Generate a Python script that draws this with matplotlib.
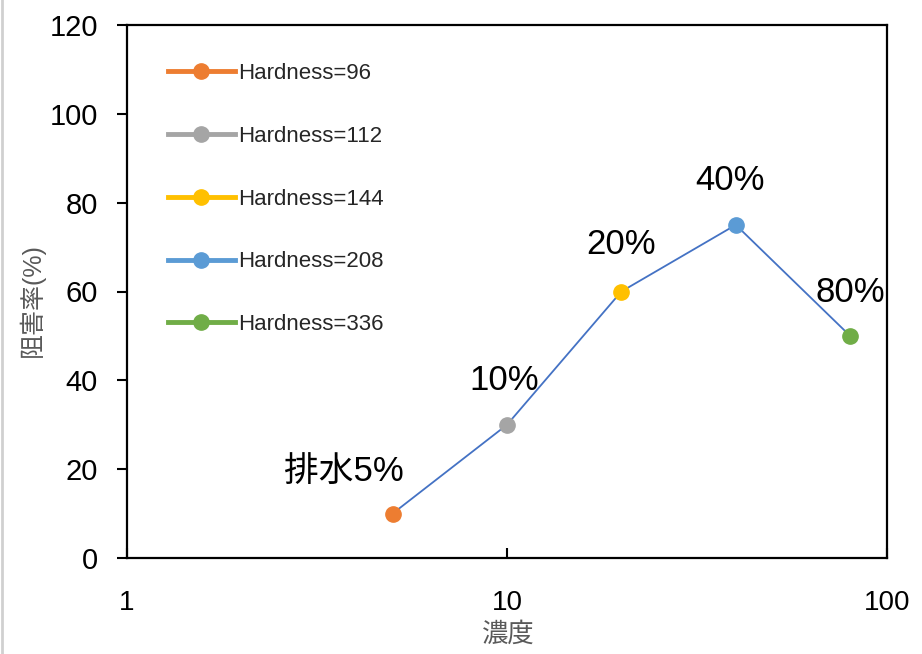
import matplotlib
matplotlib.use('Agg')
import matplotlib.pyplot as plt
from matplotlib.lines import Line2D
from matplotlib.ticker import FixedLocator, FixedFormatter, NullLocator

plt.rcParams['font.family'] = ['Liberation Sans', 'Noto Sans CJK JP', 'DejaVu Sans']

# データ
conc = [5, 10, 20, 40, 80]
inhibition = [10, 30, 60, 75, 50]
labels = ['Hardness=96', 'Hardness=112', 'Hardness=144', 'Hardness=208', 'Hardness=336']
point_text = ['排水5%', '10%', '20%', '40%', '80%']
colors = ['#ED7D31', '#A5A5A5', '#FFC000', '#5B9BD5', '#70AD47']
x_ticks = [1, 10, 100]
y_ticks = [0, 20, 40, 60, 80, 100, 120]

fig = plt.figure(figsize=(9.22, 6.54), dpi=100)
ax = fig.add_axes([127 / 922, 1 - 558 / 654, (887 - 127) / 922, (558 - 25) / 654])

# 折れ線
ax.plot(conc, inhibition, color='#4472C4', lw=1.3, zorder=2)

# 各点
for x, y, c, lab in zip(conc, inhibition, colors, labels):
    ax.plot([x], [y], marker='o', ms=11, color=c, lw=3.5, label=lab, zorder=3)

# 点ラベル
offsets = [(-35, 30), (-2, 32), (0, 34), (-4, 32), (0, 31)]
for x, y, t, (dx, dy) in zip(conc, inhibition, point_text, offsets):
    ax.annotate(t, (x, y), xytext=(dx, dy), textcoords='offset points',
                ha='center', va='center', fontsize=25, color='black')

ax.set_xscale('log')
ax.set_xlim(1, 100)
ax.set_ylim(0, 120)
ax.xaxis.set_major_locator(FixedLocator(x_ticks))
ax.xaxis.set_major_formatter(FixedFormatter([str(v) for v in x_ticks]))
ax.xaxis.set_minor_locator(NullLocator())
ax.set_yticks(y_ticks)

ax.tick_params(axis='x', direction='in', length=7, width=1.5, pad=23, labelsize=20)
ax.tick_params(axis='y', direction='out', length=7, width=1.5, pad=14, labelsize=21)
for s in ax.spines.values():
    s.set_linewidth(1.6)

# 軸ラベル
fig.text(32 / 922, 1 - 300 / 654, '阻害率(%)', rotation=90, ha='center', va='center',
         fontsize=18, color='#595959')
fig.text(508 / 922, 1 - 634 / 654, '濃度', ha='center', va='center',
         fontsize=19, color='#595959')

ax.legend(loc='upper left', bbox_to_anchor=(168 / 922, 1 - 63 / 654),
          bbox_transform=fig.transFigure, frameon=False, fontsize=16,
          handlelength=3.0, handletextpad=0.15, labelspacing=1.88,
          borderpad=0, borderaxespad=0, labelcolor='#262626')

# 左端の薄い枠線
fig.add_artist(Line2D([0.002, 0.002], [0, 1], color='#D0D0D0', lw=2, transform=fig.transFigure))

fig.savefig('out.png', dpi=100)
